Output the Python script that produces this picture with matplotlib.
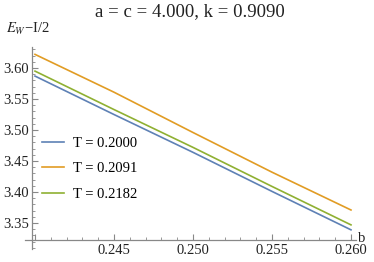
import matplotlib
matplotlib.use("Agg")
import matplotlib.pyplot as plt
from matplotlib.ticker import MultipleLocator, FixedLocator, FuncFormatter

plt.rcParams['font.family'] = ['Liberation Serif', 'DejaVu Serif']
plt.rcParams['mathtext.fontset'] = 'stix'

b = [0.240, 0.245, 0.250, 0.255, 0.260]
series = {
    "T = 0.2000": [3.587, 3.525, 3.464, 3.401, 3.339],
    "T = 0.2091": [3.622, 3.561, 3.496, 3.432, 3.371],
    "T = 0.2182": [3.595, 3.533, 3.472, 3.409, 3.347],
}
colors = ["#5E81B5", "#E19C24", "#8FB032"]
xticks = [0.240, 0.245, 0.250, 0.255, 0.260]
xticklabels = ["", "0.245", "0.250", "0.255", "0.260"]
yticks = [3.35, 3.40, 3.45, 3.50, 3.55, 3.60]
title = "a = c = 4.000, k = 0.9090"

fig = plt.figure(figsize=(3.74, 2.62), dpi=100)
ax = fig.add_axes([25/374, 13/262, 331/374, 202/262])

for (lab, vals), c in zip(series.items(), colors):
    ax.plot(b, vals, color=c, lw=1.2, label=lab)

ax.set_xlim(0.239367, 0.260317)
ax.set_ylim(3.3081, 3.6339)
gray = "#888888"
for s in ["top", "right"]:
    ax.spines[s].set_visible(False)
ax.spines["left"].set_position(("data", 0.23981))
ax.spines["bottom"].set_position(("data", 3.3226))
for s in ["left", "bottom"]:
    ax.spines[s].set_color(gray)
    ax.spines[s].set_linewidth(0.9)

ax.xaxis.set_major_locator(FixedLocator(xticks))
ax.set_xticklabels(xticklabels)
ax.xaxis.set_minor_locator(MultipleLocator(0.001))
ax.yaxis.set_major_locator(FixedLocator(yticks))
ax.yaxis.set_major_formatter(FuncFormatter(lambda v, p: f"{v:.2f}"))
ax.yaxis.set_minor_locator(MultipleLocator(0.01))
ax.tick_params(which="major", direction="in", length=4, width=0.8, color=gray,
               labelsize=10.5, labelcolor="#222222", pad=3)
ax.tick_params(which="minor", direction="in", length=2.2, width=0.6, color=gray)
ax.tick_params(axis="y", pad=2)

fig.text(6/374, 1 - 29/262, r"$E_W$" + "\u2212I/2", fontsize=10.5, va="center", ha="left", color="#222222")
fig.text(362/374, 1 - 238/262, "b", fontsize=10.5, va="center", ha="center", color="#222222")
fig.text(190/374, 1 - 12/262, title, fontsize=13.5, va="center", ha="center", color="#222222")

ax.legend(loc="upper left", bbox_to_anchor=(0.035, 0.585), frameon=False, fontsize=10.5,
          handlelength=1.5, handletextpad=0.6, labelspacing=0.85, borderaxespad=0)

fig.savefig("out.png", dpi=100)
